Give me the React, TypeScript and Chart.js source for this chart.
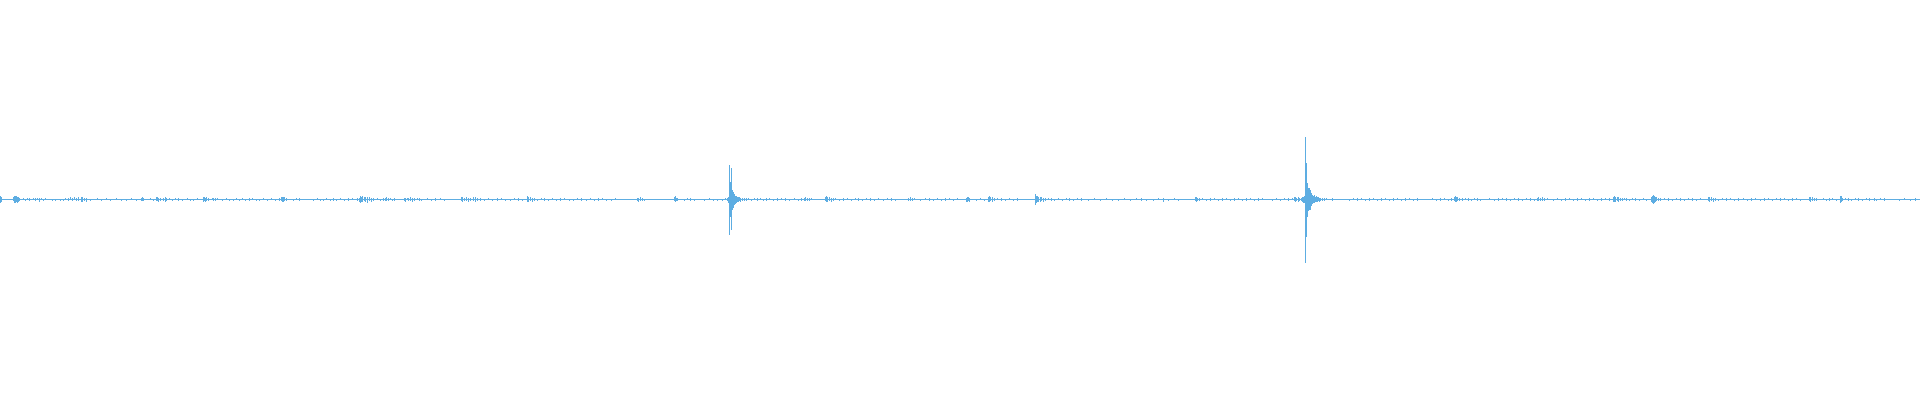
import React, { useEffect, useRef } from "react";
import { Chart, registerables } from "chart.js";

Chart.register(...registerables);

// Waveform envelope per time step: [time, low, high]
const openingNoise: [number, number, number][] = [
  [0,-3.5,3.5],[1,-2.5,2.5],
  [13,-1.5,2.5],[14,-3.5,3.5],[15,-3.5,3.5],[16,-2.5,3.5],[17,-3.5,2.5],[18,-2.5,2.5],[19,-1.5,1.5],
  [23,0,1.5],[25,-1.5,0],[27,0,1.5],[29,-1.5,1.5],
  [33,0,1.5],[35,-1.5,1.5],[37,0,1.5],[39,-2.5,1.5],[41,0,1.5],[43,-1.5,0],[45,0,1.5],
  [52,-1.5,0],[55,-1.5,0],
  [60,-1.5,0],[63,-1.5,0],[65,0,1.5],
  [68,-1.5,1.5],[70,0,2.5],[72,-1.5,1.5],[74,0,2.5],[76,-1.5,1.5],[78,-1.5,2.5],[81,-2.5,2.5],[82,-2.5,2.5],[84,-1.5,1.5],[86,-2.5,1.5],
  [90,-1.5,0],[97,0,1.5],[101,-1.5,0],[106,0,1.5],[110,-1.5,0],[116,0,1.5],[121,-1.5,0],[126,-1.5,0],[131,0,1.5],[136,-1.5,0],
  [141,-1.5,1.5],[142,-1.5,2.5],[143,-1.5,1.5],
  [150,0,1.5],[153,-1.5,0],
  [156,-1.5,2.5],[157,-1.5,2.5],[158,-2.5,1.5],[160,-1.5,1.5],
  [163,-1.5,1.5],[165,-2.5,2.5],[166,-1.5,1.5],[169,0,1.5],[172,-1.5,0],[175,0,1.5],[178,-1.5,1.5],
  [182,-1.5,0],[187,0,1.5],[190,-1.5,0],[193,-1.5,0],[197,0,1.5],
  [203,-2.5,2.5],[204,-1.5,2.5],[205,-2.5,1.5],[206,-1.5,2.5],[208,-1.5,1.5],
  [212,0,1.5],[213,-1.5,1.5],[215,-1.5,1.5],[217,0,1.5],
  [222,-1.5,0],[226,0,1.5],[229,-1.5,0],[233,-1.5,0],[236,0,1.5],[239,-1.5,0],[242,0,1.5],[245,-1.5,0],[249,-1.5,1.5],[252,0,1.5],[256,-1.5,0],[259,-1.5,0],[263,0,1.5],[267,-1.5,0],[271,0,1.5],[275,-1.5,0],[279,-1.5,1.5],
  [281,-1.5,2.5],[282,-2.5,2.5],[283,-2.5,2.5],[284,-1.5,2.5],[286,-1.5,1.5],
  [293,-1.5,0],[296,0,1.5],[299,-1.5,1.5],
  [313,-1.5,0],[317,0,1.5],[320,-1.5,0],[323,-1.5,0],[326,0,1.5],[330,-1.5,0],[333,-1.5,1.5],[336,-1.5,0],[340,0,1.5],[344,-1.5,0],[348,-1.5,1.5],[352,0,1.5],
  [357,-1.5,1.5],[359,-2.5,1.5],[360,-3.5,3.5],[361,-2.5,2.5],[362,-2.5,3.5],[364,-1.5,2.5],[365,-2.5,2.5],[367,-3.5,2.5],[369,-1.5,2.5],[371,-2.5,1.5],[373,-1.5,1.5],
  [377,0,1.5],[380,-1.5,0],[383,-1.5,1.5],
];

const secondQuarterNoise: [number, number, number][] = [
  [385,-1.5,1.5],[386,-1.5,2.5],[388,-1.5,1.5],[390,0,1.5],[392,-1.5,0],[394,-1.5,1.5],
  [404,-1.5,1.5],[405,-2.5,1.5],[407,0,1.5],[408,-1.5,1.5],[410,-1.5,2.5],[412,-2.5,1.5],[414,-1.5,1.5],[417,0,1.5],[419,-1.5,1.5],[421,-1.5,0],
  [427,0,1.5],[431,-1.5,0],[435,-1.5,1.5],[440,0,1.5],[444,-1.5,0],
  [461,-1.5,2.5],[462,-2.5,2.5],[464,-1.5,1.5],[466,-1.5,2.5],[468,-2.5,1.5],[470,-1.5,1.5],[473,-1.5,2.5],[475,-2.5,2.5],[477,-1.5,1.5],[480,-1.5,1.5],
  [484,-1.5,0],[488,0,1.5],[492,-1.5,0],[497,-1.5,1.5],[501,0,1.5],[505,-1.5,0],[510,-1.5,0],[514,0,1.5],[518,-1.5,1.5],[522,-1.5,0],
  [527,-2.5,3.5],[528,-2.5,2.5],[530,-1.5,2.5],[532,-2.5,1.5],[534,-1.5,1.5],
  [537,-1.5,0],[541,0,1.5],[544,-1.5,1.5],[548,-1.5,0],[552,0,1.5],[556,-1.5,0],[560,-1.5,1.5],[564,0,1.5],[569,-1.5,0],[573,-1.5,0],[577,0,1.5],[581,-1.5,1.5],[586,-1.5,0],[590,0,1.5],[594,-1.5,0],[598,-1.5,1.5],[602,0,1.5],[606,-1.5,0],[611,-1.5,0],[615,0,1.5],
  [637,-1.5,1.5],[638,-2.5,1.5],[640,-1.5,2.5],[642,-1.5,1.5],[644,-1.5,0],
  [674,-1.5,2.5],[675,-2.5,3.5],[676,-1.5,1.5],[677,-1.5,1.5],
  [684,-1.5,0],[687,0,1.5],[690,-1.5,1.5],[694,-1.5,0],
  [704,-1.5,0],[709,0,1.5],[713,-1.5,0],[717,-1.5,0],
  [722,-1.5,0],[725,0,1.5],
  [751,-1.5,0],[754,0,1.5],[757,-1.5,1.5],[760,0,1.5],[763,-1.5,0],[766,-1.5,1.5],
];

const firstShock: [number, number, number][] = [
  [727,-1.5,1.5],[728,-3.5,2.5],[729,-35.5,34.5],[730,-17.5,17.5],[731,-30.5,31.5],[732,-10.5,9.5],[733,-8.5,7.5],[734,-5.5,5.5],[735,-4.5,3.5],[736,-3.5,3.5],[737,-2.5,2.5],[738,-2.5,2.5],[739,-1.5,2.5],[740,-2.5,1.5],[742,-1.5,1.5],[744,-1.5,1.5],[746,-1.5,1.5],[748,0,1.5],
];

const thirdQuarterNoise: [number, number, number][] = [
  [769,0,1.5],[773,-1.5,0],[777,-1.5,1.5],[781,0,1.5],[785,-1.5,1.5],[789,-1.5,0],[794,0,1.5],[798,-1.5,0],[801,-1.5,1.5],[804,-1.5,1.5],[805,-1.5,2.5],[807,-1.5,1.5],[809,-1.5,1.5],[811,0,1.5],
  [825,-1.5,2.5],[826,-2.5,3.5],[827,-2.5,2.5],[829,-1.5,2.5],[831,-2.5,1.5],[833,-1.5,1.5],
  [835,0,1.5],[839,-1.5,0],[843,-1.5,1.5],[847,0,1.5],[851,-1.5,0],[855,0,1.5],[858,-1.5,1.5],[862,-1.5,0],[866,0,1.5],[870,-1.5,1.5],[874,-1.5,0],[878,0,1.5],[883,-1.5,0],[887,0,1.5],[891,-1.5,1.5],[895,-1.5,0],
  [908,-1.5,1.5],[910,-1.5,2.5],[912,-1.5,1.5],[914,0,1.5],
  [920,-1.5,0],[925,0,1.5],[929,-1.5,1.5],[933,-1.5,0],[937,0,1.5],[941,-1.5,0],[945,-1.5,1.5],[949,0,1.5],[953,-1.5,0],[957,0,1.5],
  [966,-2.5,1.5],[967,-2.5,2.5],[968,-1.5,2.5],[969,-2.5,1.5],
  [976,-1.5,0],[980,0,1.5],[984,-1.5,0],[988,-2.5,2.5],[989,-2.5,3.5],[990,-1.5,2.5],[992,-2.5,2.5],[994,-1.5,1.5],[997,0,1.5],[1001,-1.5,1.5],[1005,-1.5,0],[1009,0,1.5],[1013,-1.5,0],[1017,-1.5,1.5],
  [1035,-5.5,5.5],[1036,-3.5,3.5],[1037,-2.5,3.5],[1038,-2.5,2.5],[1040,-2.5,2.5],[1041,-1.5,2.5],[1043,-2.5,1.5],[1045,-1.5,1.5],
  [1048,0,1.5],[1051,-1.5,1.5],[1054,-1.5,0],[1058,0,1.5],
  [1062,-1.5,0],[1066,0,1.5],[1069,-1.5,1.5],[1073,-1.5,0],[1077,0,1.5],[1081,-1.5,1.5],
  [1088,-1.5,0],[1094,0,1.5],[1100,-1.5,0],[1106,0,1.5],[1112,-1.5,0],[1118,-1.5,0],[1124,0,1.5],[1130,-1.5,0],[1136,0,1.5],[1141,-1.5,1.5],[1146,-1.5,0],
];

const fourthQuarterNoise: [number, number, number][] = [
  [1153,-1.5,0],[1158,0,1.5],[1163,-2.5,1.5],[1168,-1.5,0],[1174,0,1.5],[1178,-1.5,0],
  [1195,-1.5,2.5],[1196,-2.5,2.5],[1197,-1.5,1.5],[1199,-1.5,1.5],
  [1202,0,1.5],[1206,-1.5,0],[1210,-1.5,1.5],[1214,0,1.5],[1218,-1.5,0],[1222,-1.5,1.5],[1226,0,1.5],[1230,-1.5,0],[1234,-1.5,1.5],[1238,0,1.5],[1242,-1.5,0],[1246,-1.5,1.5],[1250,0,1.5],[1254,-1.5,0],[1258,-1.5,1.5],[1262,0,1.5],
  [1272,-1.5,0],[1276,0,1.5],[1280,-1.5,0],[1284,0,1.5],[1288,-1.5,1.5],[1292,0,1.5],
  [1294,-1.5,2.5],[1295,-2.5,2.5],[1296,-1.5,1.5],[1298,-2.5,2.5],[1299,-1.5,1.5],
  [1332,-1.5,1.5],
  [1349,-1.5,0],[1353,0,1.5],[1357,-1.5,1.5],[1361,0,1.5],[1365,-1.5,0],[1369,-1.5,1.5],[1373,0,1.5],[1377,-1.5,0],[1381,-1.5,1.5],[1385,0,1.5],[1389,-1.5,0],[1393,-1.5,1.5],[1397,0,1.5],[1401,-1.5,0],[1405,-1.5,1.5],[1409,0,1.5],[1413,-1.5,0],[1417,-1.5,1.5],
  [1432,0,1.5],[1436,-1.5,0],[1440,-1.5,1.5],[1444,0,1.5],[1448,-1.5,0],[1451,-1.5,1.5],
  [1454,-1.5,2.5],[1455,-2.5,3.5],[1456,-2.5,2.5],[1457,-1.5,2.5],[1459,-1.5,1.5],
  [1462,-1.5,1.5],[1465,0,1.5],[1468,-1.5,1.5],[1471,-1.5,0],[1474,0,1.5],[1477,-1.5,1.5],[1480,-1.5,0],
  [1489,0,1.5],[1494,-1.5,0],[1498,-1.5,1.5],[1502,0,1.5],[1506,-1.5,1.5],[1510,-1.5,0],[1514,0,1.5],[1518,-1.5,1.5],[1522,-1.5,0],[1526,0,1.5],[1530,-1.5,1.5],[1534,-1.5,0],
];

const secondShock: [number, number, number][] = [
  [1301,-1.5,1.5],[1302,-2.5,2.5],[1303,-3.5,2.5],[1304,-3.5,3.5],[1305,-63.5,62.5],[1306,-37.5,36.5],[1307,-17.5,16.5],[1308,-11.5,11.5],[1309,-10.5,11.5],[1310,-10.5,9.5],[1311,-6.5,6.5],[1312,-4.5,4.5],[1313,-3.5,3.5],[1314,-3.5,4.5],[1315,-2.5,2.5],[1316,-2.5,3.5],[1317,-2.5,2.5],[1318,-1.5,2.5],[1319,-2.5,1.5],[1320,-1.5,1.5],[1322,-1.5,1.5],[1324,-1.5,1.5],[1326,0,1.5],
];

const closingNoise: [number, number, number][] = [
  [1537,-1.5,1.5],[1538,-1.5,2.5],[1540,-1.5,1.5],[1542,-1.5,2.5],[1544,-1.5,1.5],[1547,0,1.5],
  [1553,-1.5,0],[1557,0,1.5],[1561,-1.5,0],[1565,-1.5,1.5],[1569,0,1.5],[1573,-1.5,0],[1577,-1.5,1.5],[1581,0,1.5],[1585,-1.5,0],[1589,-1.5,1.5],[1593,0,1.5],[1597,-1.5,0],[1601,-1.5,1.5],[1605,0,1.5],[1609,-1.5,1.5],
  [1613,-2.5,2.5],[1614,-2.5,3.5],[1615,-2.5,2.5],[1617,-1.5,2.5],[1618,-2.5,2.5],[1620,-1.5,1.5],
  [1622,-1.5,1.5],[1624,0,1.5],[1626,-1.5,1.5],[1629,-1.5,0],[1632,0,1.5],[1635,-1.5,1.5],[1639,-1.5,0],[1643,0,1.5],[1646,-1.5,0],
  [1651,-2.5,2.5],[1652,-3.5,3.5],[1653,-4.5,4.5],[1654,-3.5,3.5],[1655,-2.5,2.5],[1656,-1.5,2.5],[1658,-1.5,1.5],
  [1660,-1.5,1.5],[1664,0,1.5],[1668,-1.5,1.5],[1672,-1.5,0],[1676,0,1.5],[1680,-1.5,1.5],[1684,-1.5,0],[1688,0,1.5],[1692,-1.5,1.5],[1696,-1.5,0],[1700,0,1.5],
  [1708,-1.5,2.5],[1709,-2.5,2.5],[1711,-1.5,2.5],[1713,-2.5,1.5],[1715,-1.5,1.5],
  [1718,-1.5,0],[1722,0,1.5],[1726,-1.5,1.5],[1730,0,1.5],[1734,-1.5,0],[1738,-1.5,1.5],[1743,0,1.5],[1747,-1.5,0],[1751,-1.5,1.5],[1755,0,1.5],[1760,-1.5,0],[1764,-1.5,1.5],[1768,0,1.5],[1772,-1.5,0],[1776,0,1.5],
  [1780,-1.5,1.5],[1784,0,1.5],[1788,-1.5,0],[1792,-1.5,1.5],[1796,0,1.5],[1800,-1.5,0],
  [1809,-1.5,2.5],[1810,-2.5,2.5],[1812,-1.5,2.5],[1814,-1.5,1.5],[1816,-1.5,1.5],
  [1823,0,1.5],[1826,-1.5,0],[1829,-1.5,1.5],[1832,0,1.5],[1836,-1.5,0],
  [1840,-3.5,3.5],[1841,-2.5,3.5],[1842,-1.5,1.5],
  [1845,0,1.5],[1848,-1.5,1.5],[1851,-1.5,0],[1855,0,1.5],[1858,-1.5,1.5],[1862,-1.5,0],[1866,0,1.5],[1869,-1.5,1.5],
  [1874,-1.5,1.5],[1876,-1.5,0],[1880,0,1.5],[1884,-1.5,1.5],
  [1899,-1.5,0],[1904,0,1.5],[1910,-1.5,0],[1915,-1.5,1.5],
];

const baselineTimes = [-0.5, 1919.5];
const baselineLevel = 0;

const WAVE_COLOR = "#5DADE2";

export default function App() {
  const canvasRef = useRef<HTMLCanvasElement | null>(null);

  useEffect(() => {
    const canvas = canvasRef.current;
    if (!canvas) return;
    const segments = [
      openingNoise,
      secondQuarterNoise,
      firstShock,
      thirdQuarterNoise,
      fourthQuarterNoise,
      secondShock,
      closingNoise,
    ];
    const envelope = segments
      .flat()
      .map(([t, lo, hi]) => ({ x: t, y: [lo, hi] }));

    const chart = new Chart(canvas, {
      type: "bar",
      data: {
        datasets: [
          {
            type: "line",
            data: baselineTimes.map((t) => ({ x: t, y: baselineLevel })),
            borderColor: WAVE_COLOR,
            borderWidth: 1,
            pointRadius: 0,
            tension: 0,
            fill: false,
          } as any,
          {
            type: "bar",
            data: envelope as any,
            backgroundColor: WAVE_COLOR,
            borderWidth: 0,
            barThickness: 1,
            inflateAmount: 0,
            grouped: false,
          } as any,
        ],
      },
      options: {
        animation: false,
        responsive: false,
        devicePixelRatio: 1,
        layout: { padding: 0 },
        plugins: {
          legend: { display: false },
          tooltip: { enabled: false },
        },
        scales: {
          x: {
            type: "linear",
            min: -0.5,
            max: 1919.5,
            offset: false,
            display: false,
            grid: { display: false },
          },
          y: {
            type: "linear",
            min: -200.5,
            max: 199.5,
            display: false,
            grid: { display: false },
          },
        },
      } as any,
    });
    return () => chart.destroy();
  }, []);

  return (
    <div style={{ position: "absolute", left: 0, top: 0, width: 1920, height: 400, background: "#ffffff" }}>
      <canvas ref={canvasRef} width={1920} height={400} style={{ display: "block", width: 1920, height: 400 }} />
    </div>
  );
}
